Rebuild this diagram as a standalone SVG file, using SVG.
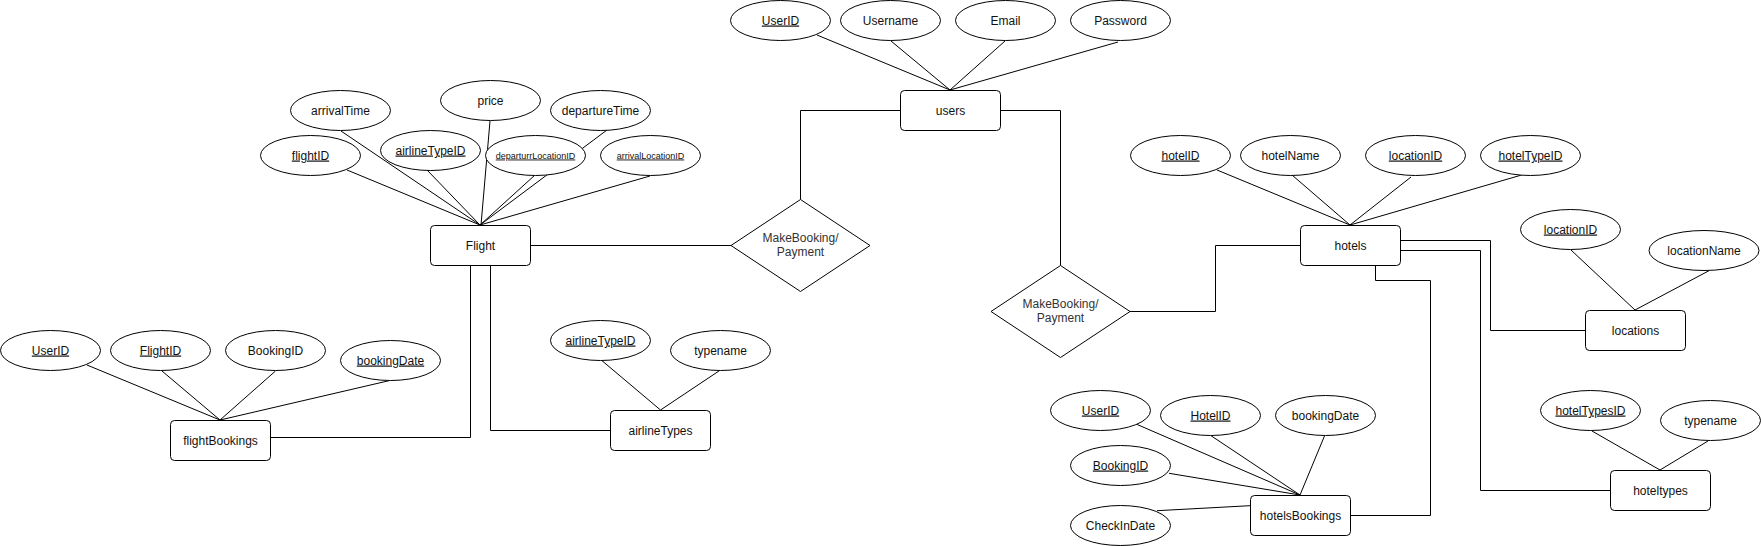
<svg xmlns="http://www.w3.org/2000/svg" width="1761" height="546" viewBox="0 0 1761 546">
<style>
.c{fill:none;stroke:#000;stroke-width:1}
.e{fill:#fff;stroke:#000;stroke-width:1}
.t{font-family:"Liberation Sans",Arial,sans-serif;font-size:12px;fill:#111;text-anchor:middle}
.r{fill:#333}
.s{font-size:9px}
.u{text-decoration:underline}
</style>
<rect width="1761" height="546" fill="#fff"/>
<g id="connectors">
<path class="c" d="M950,90L817,35M950,90L891,41M950,90L1005,41M950,90L1118,42"/>
<polyline class="c" points="900,110.5 800.5,110.5 800.5,199.5"/>
<polyline class="c" points="1000,110.5 1060.5,110.5 1060.5,265.5"/>
<path class="c" d="M530,245.5H731"/>
<path class="c" d="M480,225L347,170M480,225L341,131M480,225L427,170M481,225L490,121M480,225L535,175M480,225L607,130M480,225L650,176"/>
<polyline class="c" points="470.5,265 470.5,437.5 270,437.5"/>
<polyline class="c" points="490.5,265 490.5,430.5 610,430.5"/>
<path class="c" d="M220,420L87,365M220,420L162,371M220,420L275.5,371M220,420L389,380.7"/>
<path class="c" d="M660.5,410L602,360.7M660.5,410L719.4,370.7"/>
<polyline class="c" points="1130,311.5 1215.5,311.5 1215.5,245.5 1300,245.5"/>
<path class="c" d="M1350,225L1217,170M1350,225L1292,175M1350,225L1411,177M1350,225L1521.6,175"/>
<polyline class="c" points="1400,240.5 1490.5,240.5 1490.5,330.5 1585,330.5"/>
<polyline class="c" points="1400,250.5 1480.5,250.5 1480.5,490.5 1610,490.5"/>
<polyline class="c" points="1375.5,265 1375.5,280.5 1430.5,280.5 1430.5,515.5 1350,515.5"/>
<path class="c" d="M1635,310L1571,250M1635,310L1709,270.7"/>
<path class="c" d="M1660,470L1592,431M1660,470L1708,441"/>
<path class="c" d="M1300,495L1136,424M1300,495L1211,435.7M1300,495L1324.6,435.7M1300,495L1169,473.3M1157,510.7L1250,505.7"/>
</g>
<g id="users"><rect class="e" x="900.5" y="90.5" width="100" height="40" rx="4"/><text class="t" x="950.5" y="114.5">users</text></g>
<g id="users-UserID"><ellipse class="e" cx="780.5" cy="20.5" rx="50" ry="20"/><text class="t u" x="780.5" y="24.5">UserID</text></g>
<g id="users-Username"><ellipse class="e" cx="890.5" cy="20.5" rx="50" ry="20"/><text class="t" x="890.5" y="24.5">Username</text></g>
<g id="users-Email"><ellipse class="e" cx="1005.5" cy="20.5" rx="50" ry="20"/><text class="t" x="1005.5" y="24.5">Email</text></g>
<g id="users-Password"><ellipse class="e" cx="1120.5" cy="20.5" rx="50" ry="20"/><text class="t" x="1120.5" y="24.5">Password</text></g>
<g id="rel-flight"><polygon class="e" points="800.5,199.5 870,245.5 800.5,291.5 731,245.5"/><text class="t r" x="800.5" y="241.7">MakeBooking/</text><text class="t r" x="800.5" y="256.3">Payment</text></g>
<g id="rel-hotel"><polygon class="e" points="1060.5,265.5 1130,311.5 1060.5,357.5 991,311.5"/><text class="t r" x="1060.5" y="307.7">MakeBooking/</text><text class="t r" x="1060.5" y="322.3">Payment</text></g>
<g id="Flight"><rect class="e" x="430.5" y="225.5" width="100" height="40" rx="4"/><text class="t" x="480.5" y="249.5">Flight</text></g>
<g id="f-arrivalTime"><ellipse class="e" cx="340.5" cy="110.5" rx="50" ry="20"/><text class="t" x="340.5" y="114.5">arrivalTime</text></g>
<g id="f-price"><ellipse class="e" cx="490.5" cy="100.5" rx="50" ry="20"/><text class="t" x="490.5" y="104.5">price</text></g>
<g id="f-departureTime"><ellipse class="e" cx="600.5" cy="110.5" rx="50" ry="20"/><text class="t" x="600.5" y="114.5">departureTime</text></g>
<g id="f-flightID"><ellipse class="e" cx="310.5" cy="155.5" rx="50" ry="20"/><text class="t u" x="310.5" y="159.5">flightID</text></g>
<g id="f-airlineTypeID"><ellipse class="e" cx="430.5" cy="150.5" rx="50" ry="20"/><text class="t u" x="430.5" y="154.5">airlineTypeID</text></g>
<g id="f-departurrLocationID"><ellipse class="e" cx="535.5" cy="155.5" rx="50" ry="20"/><text class="t s u" x="535.5" y="158.5">departurrLocationID</text></g>
<g id="f-arrivalLocationID"><ellipse class="e" cx="650.5" cy="155.5" rx="50" ry="20"/><text class="t s u" x="650.5" y="158.5">arrivalLocationID</text></g>
<g id="flightBookings"><rect class="e" x="170.5" y="420.5" width="100" height="40" rx="4"/><text class="t" x="220.5" y="444.5">flightBookings</text></g>
<g id="fb-UserID"><ellipse class="e" cx="50.5" cy="350.5" rx="50" ry="20"/><text class="t u" x="50.5" y="354.5">UserID</text></g>
<g id="fb-FlightID"><ellipse class="e" cx="160.5" cy="350.5" rx="50" ry="20"/><text class="t u" x="160.5" y="354.5">FlightID</text></g>
<g id="fb-BookingID"><ellipse class="e" cx="275.5" cy="350.5" rx="50" ry="20"/><text class="t" x="275.5" y="354.5">BookingID</text></g>
<g id="fb-bookingDate"><ellipse class="e" cx="390.5" cy="360.5" rx="50" ry="20"/><text class="t u" x="390.5" y="364.5">bookingDate</text></g>
<g id="airlineTypes"><rect class="e" x="610.5" y="410.5" width="100" height="40" rx="4"/><text class="t" x="660.5" y="434.5">airlineTypes</text></g>
<g id="at-airlineTypeID"><ellipse class="e" cx="600.5" cy="340.5" rx="50" ry="20"/><text class="t u" x="600.5" y="344.5">airlineTypeID</text></g>
<g id="at-typename"><ellipse class="e" cx="720.5" cy="350.5" rx="50" ry="20"/><text class="t" x="720.5" y="354.5">typename</text></g>
<g id="hotels"><rect class="e" x="1300.5" y="225.5" width="100" height="40" rx="4"/><text class="t" x="1350.5" y="249.5">hotels</text></g>
<g id="h-hotelID"><ellipse class="e" cx="1180.5" cy="155.5" rx="50" ry="20"/><text class="t u" x="1180.5" y="159.5">hotelID</text></g>
<g id="h-hotelName"><ellipse class="e" cx="1290.5" cy="155.5" rx="50" ry="20"/><text class="t" x="1290.5" y="159.5">hotelName</text></g>
<g id="h-locationID"><ellipse class="e" cx="1415.5" cy="155.5" rx="50" ry="20"/><text class="t u" x="1415.5" y="159.5">locationID</text></g>
<g id="h-hotelTypeID"><ellipse class="e" cx="1530.5" cy="155.5" rx="50" ry="20"/><text class="t u" x="1530.5" y="159.5">hotelTypeID</text></g>
<g id="locations"><rect class="e" x="1585.5" y="310.5" width="100" height="40" rx="4"/><text class="t" x="1635.5" y="334.5">locations</text></g>
<g id="l-locationID"><ellipse class="e" cx="1570.5" cy="229.5" rx="50" ry="20"/><text class="t u" x="1570.5" y="233.5">locationID</text></g>
<g id="l-locationName"><ellipse class="e" cx="1704" cy="250.5" rx="55" ry="20"/><text class="t" x="1704" y="254.5">locationName</text></g>
<g id="hoteltypes"><rect class="e" x="1610.5" y="470.5" width="100" height="40" rx="4"/><text class="t" x="1660.5" y="494.5">hoteltypes</text></g>
<g id="ht-hotelTypesID"><ellipse class="e" cx="1590.5" cy="410.5" rx="50" ry="20"/><text class="t u" x="1590.5" y="414.5">hotelTypesID</text></g>
<g id="ht-typename"><ellipse class="e" cx="1710.5" cy="420.5" rx="50" ry="20"/><text class="t" x="1710.5" y="424.5">typename</text></g>
<g id="hotelsBookings"><rect class="e" x="1250.5" y="495.5" width="100" height="40" rx="4"/><text class="t" x="1300.5" y="519.5">hotelsBookings</text></g>
<g id="hb-UserID"><ellipse class="e" cx="1100.5" cy="410.5" rx="50" ry="20"/><text class="t u" x="1100.5" y="414.5">UserID</text></g>
<g id="hb-HotelID"><ellipse class="e" cx="1210.5" cy="415.5" rx="50" ry="20"/><text class="t u" x="1210.5" y="419.5">HotelID</text></g>
<g id="hb-bookingDate"><ellipse class="e" cx="1325.5" cy="415.5" rx="50" ry="20"/><text class="t" x="1325.5" y="419.5">bookingDate</text></g>
<g id="hb-BookingID"><ellipse class="e" cx="1120.5" cy="465.5" rx="50" ry="20"/><text class="t u" x="1120.5" y="469.5">BookingID</text></g>
<g id="hb-CheckInDate"><ellipse class="e" cx="1120.5" cy="525.5" rx="50" ry="20"/><text class="t" x="1120.5" y="529.5">CheckInDate</text></g>
</svg>
